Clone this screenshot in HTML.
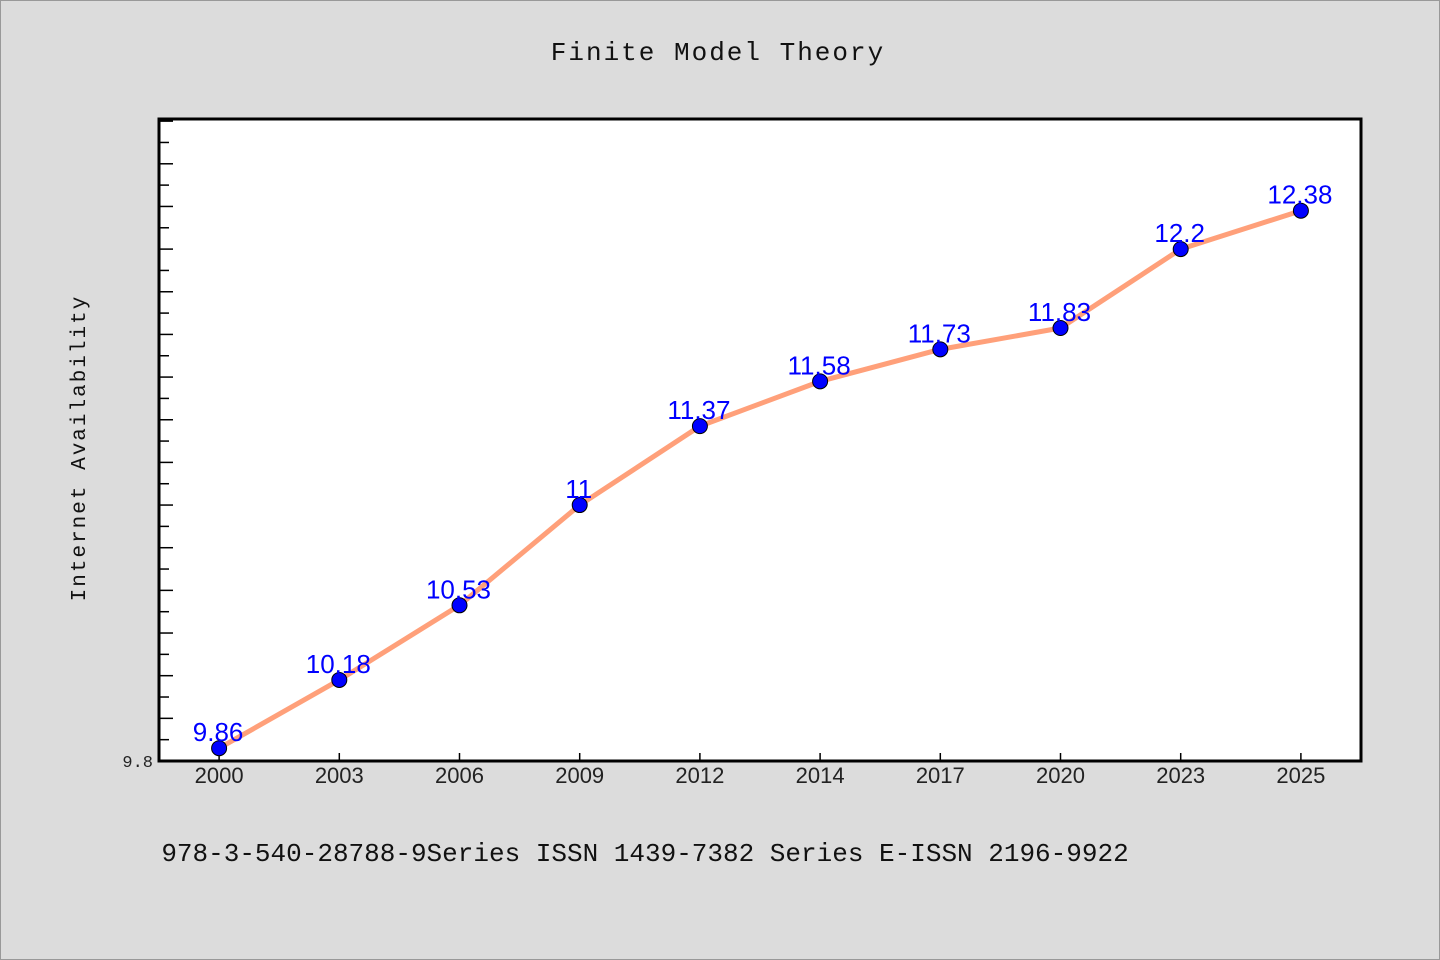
<!DOCTYPE html>
<html><head><meta charset="utf-8"><style>
html,body{margin:0;padding:0;background:#dcdcdc;}
svg{display:block;}
</style></head><body>
<svg id="chart" width="1440" height="960" viewBox="0 0 1440 960" xmlns="http://www.w3.org/2000/svg">
<rect x="0.5" y="0.5" width="1439" height="959" fill="#dcdcdc" stroke="#999"/>
<text x="718" y="60" text-anchor="middle" font-family="'WenQuanYi Zen Hei','Liberation Mono',monospace" font-size="26" letter-spacing="2" fill="#111">Finite Model Theory</text>
<text transform="translate(85,448) rotate(-90)" text-anchor="middle" font-family="'WenQuanYi Zen Hei','Liberation Mono',monospace" font-size="21" letter-spacing="2" fill="#111">Internet Availability</text>
<text x="645" y="861" text-anchor="middle" font-family="'WenQuanYi Zen Hei','Liberation Mono',monospace" font-size="26" fill="#111">978-3-540-28788-9Series ISSN 1439-7382 Series E-ISSN 2196-9922</text>
<rect x="159" y="119" width="1202" height="642" fill="#fff"/>
<g id="ticks"></g>
<g id="series"></g>
<rect x="159" y="119" width="1202" height="642" fill="none" stroke="#000" stroke-width="3"/>
</svg>
<script>
const categories = ["2000","2003","2006","2009","2012","2014","2017","2020","2023","2025"];
const values = [9.86,10.18,10.53,11,11.37,11.58,11.73,11.83,12.2,12.38];
const valueLabels = ["9.86","10.18","10.53","11","11.37","11.58","11.73","11.83","12.2","12.38"];
const yMin = 9.8, yMax = 12.81;
const L=159, T=119, W=1202, H=642;
const NS="http://www.w3.org/2000/svg";
function xPos(i){return L + W/categories.length*(i+0.5);}
function yPos(v){return T + H - (v-yMin)/(yMax-yMin)*H;}
function mk(tag, attrs, parent){const e=document.createElementNS(NS,tag);for(const k in attrs)e.setAttribute(k,attrs[k]);parent.appendChild(e);return e;}
const tg=document.getElementById('ticks');
for(let k=1;k*0.1+yMin<=yMax+1e-9;k++){
  const y=yPos(yMin+k*0.1);
  const len = k%2===0?14:10;
  const t=mk('line',{x1:L,x2:L+len,y1:y,y2:y,stroke:'#000','stroke-width':1.5},tg);
  
  
}
const yl=mk('text',{x:153,y:767,'text-anchor':'end','font-family':"'WenQuanYi Zen Hei','Liberation Mono',monospace",'font-size':17,fill:'#222'},tg);
yl.textContent="9.8";


categories.forEach((c,i)=>{
  const x=xPos(i);
  const t=mk('line',{x1:x,x2:x,y1:T+H,y2:T+H-8,stroke:'#000','stroke-width':1.5},tg);
  
  
  const lb=mk('text',{x:x,y:783,'text-anchor':'middle','font-family':"'WenQuanYi Zen Hei','Liberation Sans',sans-serif",'font-size':22,fill:'#222'},tg);
  lb.textContent=c;
  
  
});
const sg=document.getElementById('series');
const pts=values.map((v,i)=>xPos(i)+','+yPos(v)).join(' ');
const pl=mk('polyline',{points:pts,fill:'none',stroke:'#ffa07a','stroke-width':5,'stroke-linejoin':'round'},sg);


values.forEach((v,i)=>{
  const c=mk('circle',{cx:xPos(i),cy:yPos(v),r:7.5,fill:'#0000ff',stroke:'#000','stroke-width':1},sg);
  
  
});
values.forEach((v,i)=>{
  const t=mk('text',{x:xPos(i)-1,y:yPos(v)-7,'text-anchor':'middle','font-family':"'WenQuanYi Zen Hei','Liberation Sans',sans-serif",'font-size':26,fill:'#0000ff'},sg);
  t.textContent=valueLabels[i];
  
  
});
</script>
</body></html>
